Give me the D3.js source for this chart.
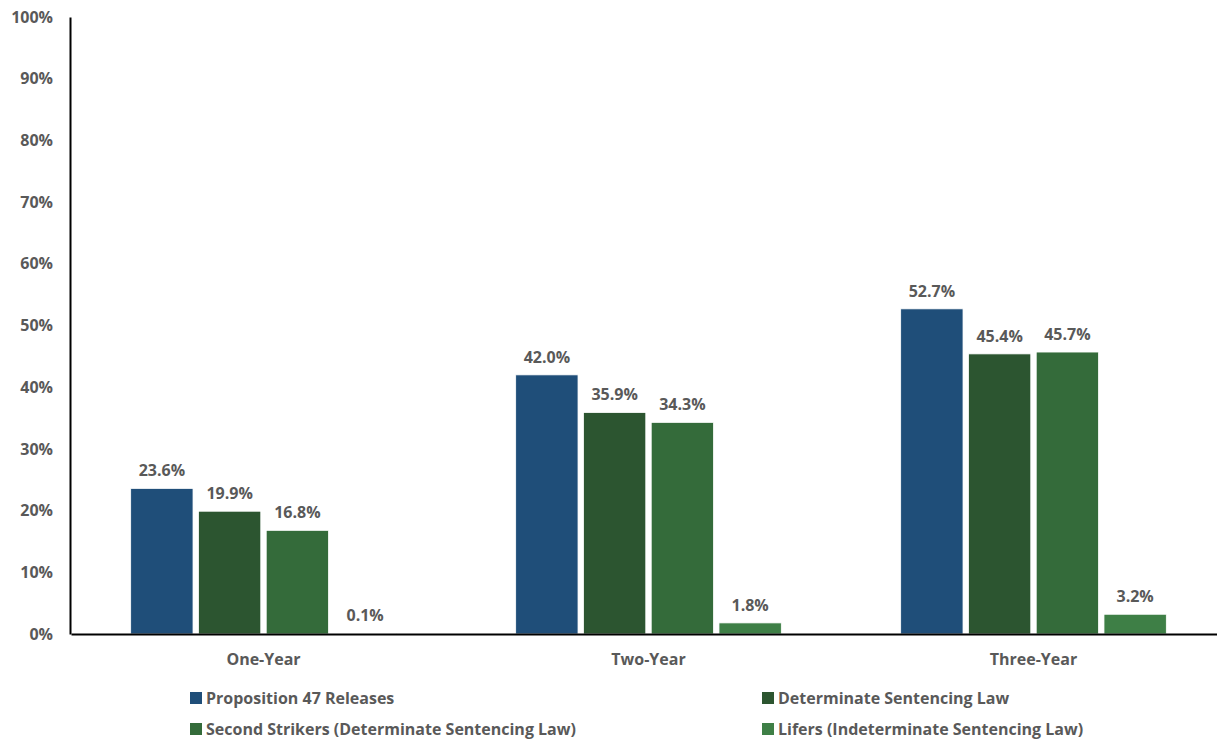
<!DOCTYPE html>
<html><head><meta charset="utf-8">
<script src="https://cdn.jsdelivr.net/npm/d3@7"></script>
<style>body{margin:0;background:#fff;}svg{display:block;}</style>
</head><body>
<svg id="c" width="1217" height="741"></svg>
<script>
const categories = ["One-Year", "Two-Year", "Three-Year"];
const seriesNames = ["Proposition 47 Releases", "Determinate Sentencing Law", "Second Strikers (Determinate Sentencing Law)", "Lifers (Indeterminate Sentencing Law)"];
const prop47 = [23.6, 42.0, 52.7];
const determinate = [19.9, 35.9, 45.4];
const secondStrikers = [16.8, 34.3, 45.7];
const lifers = [0.1, 1.8, 3.2];
const yTicks = [0, 10, 20, 30, 40, 50, 60, 70, 80, 90, 100];
const colors = ["#1F4E79", "#2C5530", "#346B3A", "#3E7F46"];

const seriesValues = [prop47, determinate, secondStrikers, lifers];
const svg = d3.select("#c");
const font = "'Open Sans', Lato, sans-serif";
const fs = 16;
const textColor = "#595959";

const x0 = d3.scaleBand().domain(categories).range([71, 1226]);
const y = d3.scaleLinear().domain([0, 100]).range([634, 17]);
const groupW = x0.bandwidth() * 0.69;
const x1 = d3.scaleBand().domain(d3.range(4)).range([0, groupW]).paddingInner(0.08);

// bars
categories.forEach((c, ci) => {
  const g = svg.append("g").attr("transform", `translate(${x0(c) + (x0.bandwidth() - groupW) / 2},0)`);
  seriesValues.forEach((vals, si) => {
    const v = vals[ci];
    g.append("rect")
      .attr("x", x1(si)).attr("width", x1.bandwidth())
      .attr("y", y(v)).attr("height", y(0) - y(v))
      .attr("fill", colors[si]).attr("stroke", "#fff").attr("stroke-width", 0.8);
    g.append("text")
      .attr("x", x1(si) + x1.bandwidth() / 2).attr("y", y(v) - 12)
      .attr("text-anchor", "middle")
      .attr("font-family", font).attr("font-weight", "bold").attr("font-size", fs)
      .attr("fill", textColor)
      .text(v.toFixed(1) + "%");
  });
});

// y axis
const yAxis = svg.append("g").attr("transform", "translate(70,0)")
  .call(d3.axisLeft(y).tickValues(yTicks).tickSize(0).tickPadding(17).tickFormat(d => d + "%"));
yAxis.select(".domain").attr("stroke", "#000").attr("stroke-width", 2);
yAxis.selectAll("text").attr("font-family", font).attr("font-weight", "bold").attr("font-size", fs).attr("fill", textColor);

// x axis
const xAxis = svg.append("g").attr("transform", "translate(0,634)")
  .call(d3.axisBottom(x0).tickSize(0).tickPadding(20));
xAxis.select(".domain").attr("stroke", "#000").attr("stroke-width", 2);
xAxis.selectAll("text").attr("font-family", font).attr("font-weight", "bold").attr("font-size", fs).attr("fill", textColor);

// legend
const legendPos = [[190, 698], [762, 698], [190, 729], [762, 729]];
seriesNames.forEach((n, i) => {
  const [lx, ly] = legendPos[i];
  svg.append("rect").attr("x", lx).attr("y", ly - 6).attr("width", 12).attr("height", 12).attr("fill", colors[i]);
  svg.append("text").attr("x", lx + 16).attr("y", ly).attr("dy", "0.35em")
    .attr("font-family", font).attr("font-weight", "bold").attr("font-size", fs).attr("fill", textColor)
    .text(n);
});
</script>
</body></html>
